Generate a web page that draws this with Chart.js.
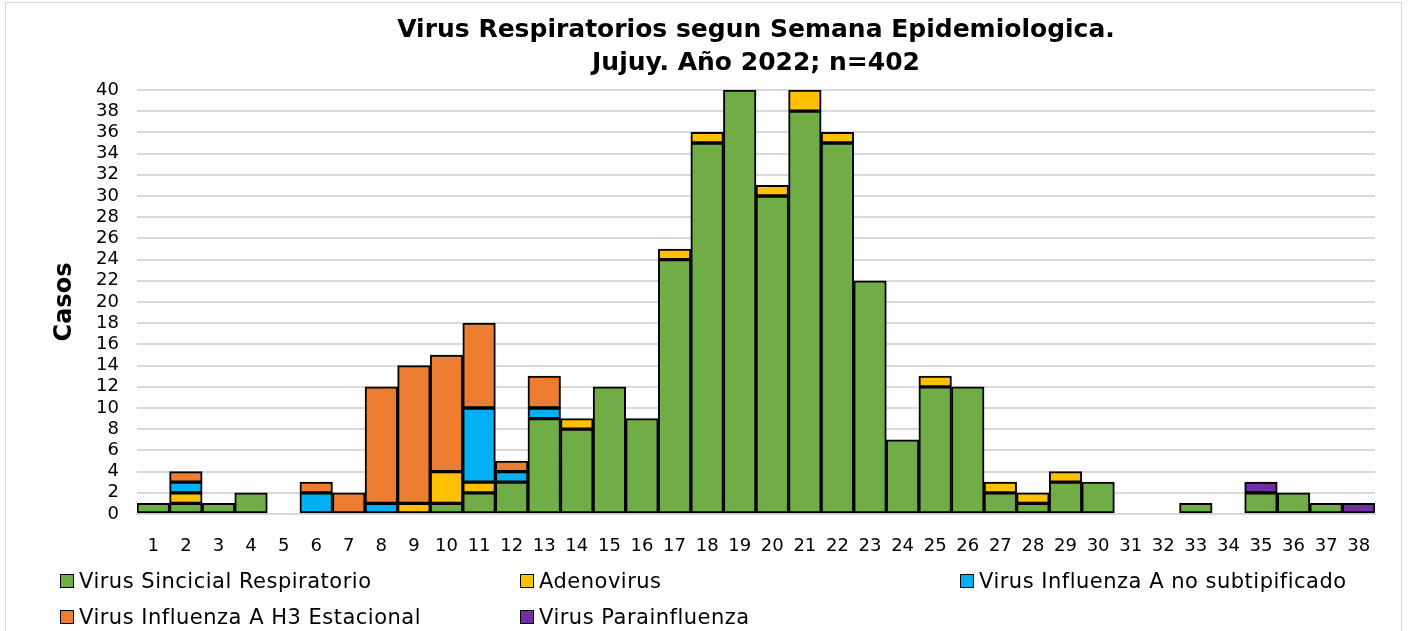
<!DOCTYPE html>
<html>
<head>
<meta charset="utf-8">
<script src="https://cdn.jsdelivr.net/npm/chart.js@4/dist/chart.umd.min.js"></script>
<style>
  body { margin: 0; background: #fff; }
  #wrap { position: relative; width: 1408px; height: 631px; }
  #frame { position: absolute; left: 5px; top: 2px; width: 1397px; height: 640px; border: 1px solid #d9d9d9; box-sizing: border-box; pointer-events: none; }
  #legend { position: absolute; left: 0; top: 0; font-family: "DejaVu Sans", sans-serif; font-size: 21px; letter-spacing: 0.5px; color: #000; }
  .item { position: absolute; white-space: nowrap; display: flex; align-items: center; }
  .box { width: 12px; height: 12px; border: 1.5px solid #000; margin-right: 5px; }
</style>
</head>
<body>
<div id="wrap">
  <canvas id="chart" width="1408" height="631"></canvas>
  <div id="frame"></div>
  <div id="legend"></div>
</div>
<script>
var semanas = [];
for (var i = 1; i <= 38; i++) semanas.push(String(i));

// casos por semana (null = sin casos)
var vsr = [1,1,1,2,null,null,null,null,null,1,2,3,9,8,12,9,24,35,40,30,38,35,22,7,12,12,2,1,3,3,null,null,1,null,2,2,1,null];
var adenovirus = [null,1,null,null,null,null,null,null,1,3,1,null,null,1,null,null,1,1,null,1,2,1,null,null,1,null,1,1,1,null,null,null,null,null,null,null,null,null];
var fluANoSub = [null,1,null,null,null,2,null,1,null,null,7,1,1,null,null,null,null,null,null,null,null,null,null,null,null,null,null,null,null,null,null,null,null,null,null,null,null,null];
var fluAH3 = [null,1,null,null,null,1,2,11,13,11,8,1,3,null,null,null,null,null,null,null,null,null,null,null,null,null,null,null,null,null,null,null,null,null,null,null,null,null];
var parainfluenza = [null,null,null,null,null,null,null,null,null,null,null,null,null,null,null,null,null,null,null,null,null,null,null,null,null,null,null,null,null,null,null,null,null,null,1,null,null,1];

var nombres = ["Virus Sincicial Respiratorio", "Adenovirus", "Virus Influenza A no subtipificado", "Virus Influenza A H3 Estacional", "Virus Parainfluenza"];
var colores = ["#70AD47", "#FFC000", "#00B0F0", "#ED7D31", "#7030A0"];
var series = [vsr, adenovirus, fluANoSub, fluAH3, parainfluenza];

var fuente = '"DejaVu Sans", sans-serif';

var datasets = series.map(function (s, i) {
    return {
        label: nombres[i],
        data: s,
        backgroundColor: colores[i],
        borderColor: "#000",
        borderWidth: 2,
        borderSkipped: false,
        barPercentage: 1,
        categoryPercentage: 1
    };
});

new Chart(document.getElementById("chart"), {
    type: "bar",
    data: { labels: semanas, datasets: datasets },
    options: {
        responsive: false,
        animation: false,
        layout: { padding: { left: 50, right: 33, top: 8, bottom: 71 } },
        plugins: {
            legend: { display: false },
            tooltip: { enabled: false },
            title: {
                display: true,
                fullSize: false,
                text: ["Virus Respiratorios segun Semana Epidemiologica.", "Jujuy. Año 2022; n=402"],
                color: "#000",
                font: { family: fuente, size: 25, weight: "bold", lineHeight: 1.32 },
                padding: { top: 6, bottom: 10 }
            }
        },
        scales: {
            x: {
                stacked: true,
                grid: { display: false, drawTicks: true, tickLength: 4 },
                border: { color: "#d9d9d9", width: 2 },
                ticks: { color: "#000", font: { family: fuente, size: 18 }, padding: 18, maxRotation: 0, autoSkip: false },
                afterFit: function (s) { s.height = 46; }
            },
            y: {
                stacked: true,
                min: 0,
                max: 40,
                grid: { color: "#d9d9d9", lineWidth: 2, drawTicks: false },
                border: { display: false },
                ticks: { stepSize: 2, autoSkip: false, color: "#000", font: { family: fuente, size: 18 }, padding: 18 },
                title: { display: true, text: "Casos", color: "#000", font: { family: fuente, size: 24, weight: "bold" }, padding: 0 },
                afterFit: function (s) { s.width = 87; }
            }
        }
    }
});

// leyenda en tres columnas
var posiciones = [[60, 582], [520, 582], [960, 582], [60, 618], [520, 618]];
var leyenda = document.getElementById("legend");
nombres.forEach(function (n, i) {
    var el = document.createElement("div");
    el.className = "item";
    el.style.left = posiciones[i][0] + "px";
    el.style.top = (posiciones[i][1] - 13) + "px";
    el.innerHTML = '<span class="box" style="background:' + colores[i] + '"></span>' + n;
    leyenda.appendChild(el);
});
</script>
</body>
</html>
